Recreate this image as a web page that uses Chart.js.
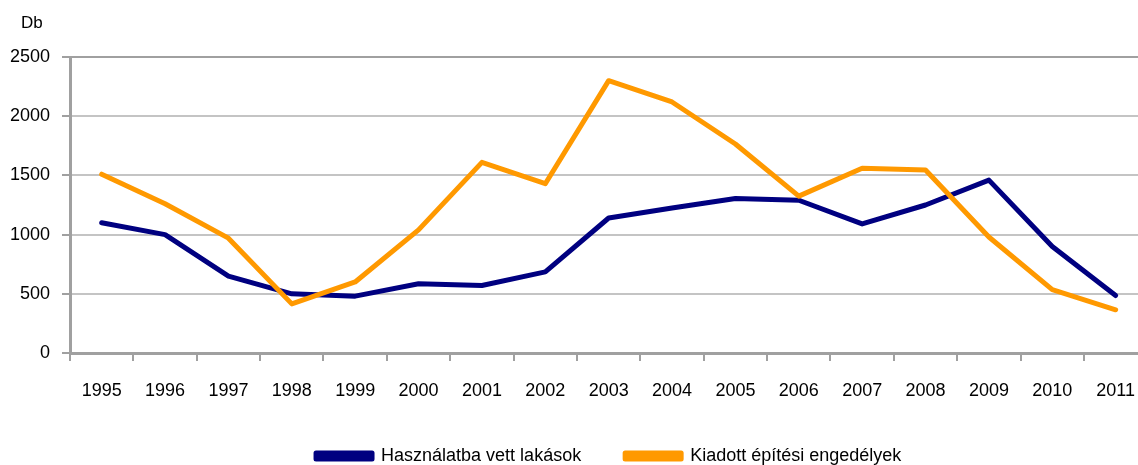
<!DOCTYPE html>
<html>
<head>
<meta charset="utf-8">
<script src="https://cdn.jsdelivr.net/npm/chart.js@4"></script>
<style>
  html, body { margin: 0; padding: 0; overflow: hidden; background: #fff; }
</style>
</head>
<body>
<canvas id="chart" width="1154" height="465"></canvas>
<script>
const years = ["1995", "1996", "1997", "1998", "1999", "2000", "2001", "2002", "2003",
  "2004", "2005", "2006", "2007", "2008", "2009", "2010", "2011"];
const hasznalatba = [1100, 1000, 650, 500, 480, 585, 570, 685, 1140, 1225, 1305, 1290, 1090, 1250, 1460, 900, 485];
const engedelyek = [1510, 1260, 970, 415, 600, 1040, 1610, 1430, 2300, 2120, 1765, 1325, 1560, 1545, 980, 535, 365];
const yTicks = [0, 500, 1000, 1500, 2000, 2500];

const fontFamily = "'Liberation Sans', Arial, sans-serif";

// "Db" unit label above the y axis
const unitLabel = {
  id: 'unitLabel',
  afterDraw(chart) {
    const ctx = chart.ctx;
    const y = chart.scales.y;
    ctx.save();
    ctx.font = '17px ' + fontFamily;
    ctx.fillStyle = '#000';
    ctx.textBaseline = 'middle';
    ctx.textAlign = 'left';
    ctx.fillText('Db', 21, y.top - 34);
    ctx.restore();
  }
};

new Chart(document.getElementById('chart'), {
  type: 'line',
  data: {
    labels: years,
    datasets: [
      {
        label: 'Használatba vett lakások',
        data: hasznalatba,
        borderColor: '#000080',
        backgroundColor: '#000080',
        borderWidth: 5,
        pointRadius: 0,
        tension: 0,
        borderJoinStyle: 'round',
        borderCapStyle: 'round',
        order: 1
      },
      {
        label: 'Kiadott építési engedélyek',
        data: engedelyek,
        borderColor: '#FF9900',
        backgroundColor: '#FF9900',
        borderWidth: 5,
        pointRadius: 0,
        tension: 0,
        borderJoinStyle: 'round',
        borderCapStyle: 'round',
        order: 0
      }
    ]
  },
  options: {
    responsive: false,
    animation: false,
    layout: { padding: { top: 57, left: 0, right: 0, bottom: -10 } },
    plugins: {
      legend: {
        position: 'bottom',
        fullSize: false,
        labels: {
          font: { family: fontFamily, size: 18 },
          color: '#000',
          boxWidth: 56,
          boxHeight: 6,
          padding: 44,
          sort: (a, b) => a.datasetIndex - b.datasetIndex
        }
      },
      tooltip: { enabled: false }
    },
    scales: {
      x: {
        offset: true,
        afterFit(scale) { scale.height = 50; },
        grid: {
          offset: true,
          drawOnChartArea: false,
          tickLength: 8,
          color: '#a0a0a0',
          lineWidth: 2
        },
        border: { color: '#a0a0a0', width: 3 },
        ticks: {
          font: { family: fontFamily, size: 18 },
          color: '#000',
          padding: 19,
          maxRotation: 0
        }
      },
      y: {
        min: 0,
        max: 2500,
        afterBuildTicks(scale) {
          scale.ticks = yTicks.map(v => ({ value: v }));
        },
        afterFit(scale) { scale.width = 70; },
        grid: {
          color: ctx => (ctx.tick && ctx.tick.value === 2500) ? '#a0a0a0' : '#c4c4c4',
          tickColor: '#a0a0a0',
          lineWidth: 2,
          tickLength: 8
        },
        border: { color: '#a0a0a0', width: 3 },
        ticks: {
          font: { family: fontFamily, size: 18 },
          color: '#000',
          padding: 12,
          callback: v => String(v)
        }
      }
    }
  },
  plugins: [unitLabel]
});
</script>
</body>
</html>
